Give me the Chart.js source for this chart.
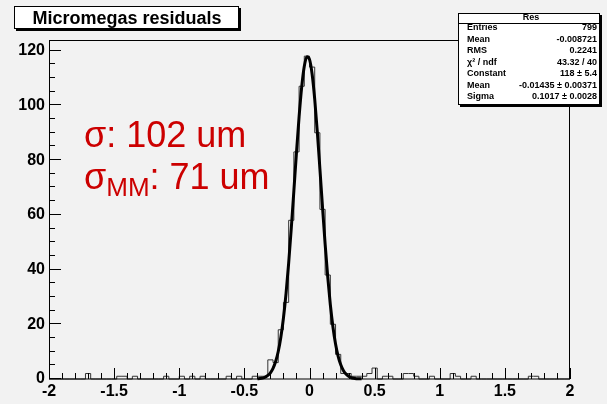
<!DOCTYPE html>
<html><head><meta charset="utf-8">
<script src="https://cdn.jsdelivr.net/npm/chart.js@4/dist/chart.umd.min.js"></script>
<style>html,body{margin:0;padding:0;background:#f2f2f2;}canvas{display:block;}</style>
</head><body>
<canvas id="c" width="607" height="404"></canvas>
<script>
// ---- data ----
const histTitle = 'Micromegas residuals';
const xMin = -2, xMax = 2, nBins = 100;
const binCounts = [
  0,0,0,0,0,0,0,2,0,0,
  0,0,0,1,1,0,1,0,0,0,
  0,0,1,0,0,1,0,1,0,1,
  0,0,0,0,1,0,1,0,0,1,
  1,1,7,6,18,28,58,83,107,118,
  114,90,62,38,20,9,2,2,1,1,
  1,2,4,0,1,1,0,0,2,2,
  1,0,0,1,0,0,0,2,1,0,
  0,1,0,0,0,0,0,0,0,0,
  0,0,1,1,0,0,0,0,0,0
];
const fitX = [-0.40,-0.38,-0.36,-0.34,-0.32,-0.30,-0.28,-0.26,-0.24,-0.22,-0.20,-0.18,-0.16,-0.14,-0.12,-0.10,-0.08,-0.06,-0.04,-0.02,
  0.00,0.02,0.04,0.06,0.08,0.10,0.12,0.14,0.16,0.18,0.20,0.22,0.24,0.26,0.28,0.30,0.32,0.34,0.36,0.38,0.40];
const fitY = [0.09,0.18,0.37,0.70,1.29,2.28,3.89,6.39,10.07,15.27,22.30,31.32,42.32,55.01,68.79,82.77,95.81,106.70,114.31,117.82,
  116.83,111.46,102.29,90.33,76.74,62.72,49.31,37.30,27.14,19.01,12.81,8.30,5.17,3.10,1.79,0.99,0.53,0.27,0.13,0.06,0.05];
const xTickLabels = [-2,-1.5,-1,-0.5,0,0.5,1,1.5,2];
const yTickLabels = [0,20,40,60,80,100,120];
const yMax = 123.9;
const statsTitle = 'Res';
const statsNames = ['Entries','Mean','RMS','\u03C7\u00B2 / ndf','Constant','Mean','Sigma'];
const statsValues = ['799','-0.008721','0.2241','43.32 / 40','118 \u00B1 5.4','-0.01435 \u00B1 0.00371','0.1017 \u00B1 0.0028'];
const annotLine1 = '\u03C3: 102 um';
const annotSigma = '\u03C3';
const annotSub = 'MM';
const annotRest = ': 71 um';

// ---- build ----
const bw = (xMax - xMin) / nBins;
const histPts = binCounts.map((v, i) => ({x: xMin + i * bw, y: v}));
histPts.push({x: xMax, y: binCounts[nBins - 1]});
const fitPts = fitX.map((x, i) => ({x: x, y: fitY[i]}));

const FONT = '"Liberation Sans", Arial, Helvetica, sans-serif';

const deco = {
  id: 'deco',
  beforeDraw(chart) {
    const ctx = chart.ctx;
    ctx.save();
    ctx.fillStyle = '#f2f2f2';
    ctx.fillRect(0, 0, chart.width, chart.height);
    ctx.restore();
  },
  afterDatasetsDraw(chart) {
    const ctx = chart.ctx, a = chart.chartArea;
    const xs = chart.scales.x, ys = chart.scales.y;
    ctx.save();
    ctx.strokeStyle = '#000';
    ctx.lineWidth = 1;
    ctx.strokeRect(Math.round(a.left) + 0.5, Math.round(a.top) + 0.5,
      Math.round(a.right - a.left) - 1, Math.round(a.bottom - a.top) - 0.5);
    ctx.beginPath();
    for (let k = 0; k * 5 <= yMax; k++) {
      const v = k * 5;
      const p = Math.round(ys.getPixelForValue(v)) - 0.5;
      const len = (k % 4 === 0) ? 12 : 6;
      ctx.moveTo(a.left, p); ctx.lineTo(a.left + len, p);
    }
    for (let k = 0; k <= 40; k++) {
      const v = xMin + k * 0.1;
      const p = Math.round(xs.getPixelForValue(v)) + 0.5;
      const len = (k % 5 === 0) ? 11 : 6;
      ctx.moveTo(p, a.bottom); ctx.lineTo(p, a.bottom - len);
    }
    ctx.stroke();
    ctx.restore();
  },
  afterDraw(chart) {
    const ctx = chart.ctx;
    ctx.save();
    // title box
    ctx.fillStyle = '#000';
    ctx.fillRect(16, 8, 225, 23);
    ctx.fillStyle = '#fff';
    ctx.fillRect(14, 6, 225, 23);
    ctx.strokeStyle = '#000'; ctx.lineWidth = 1;
    ctx.strokeRect(14.5, 6.5, 224, 22);
    ctx.fillStyle = '#000';
    ctx.font = 'bold 18px ' + FONT;
    ctx.textAlign = 'center'; ctx.textBaseline = 'alphabetic';
    ctx.fillText(histTitle, 127, 24);
    // stats box
    const bx = 458, by = 13, bwid = 142, bh = 92;
    ctx.fillStyle = '#000';
    ctx.fillRect(bx + 2, by + 2, bwid, bh);
    ctx.fillStyle = '#fff';
    ctx.fillRect(bx, by, bwid, bh);
    ctx.strokeRect(bx + 0.5, by + 0.5, bwid - 1, bh - 1);
    ctx.beginPath(); ctx.moveTo(bx, by + 10.5); ctx.lineTo(bx + bwid, by + 10.5); ctx.stroke();
    ctx.fillStyle = '#000';
    ctx.font = 'bold 9px ' + FONT;
    ctx.textBaseline = 'middle';
    ctx.textAlign = 'center';
    ctx.fillText(statsTitle, 531, 18);
    for (let i = 0; i < statsNames.length; i++) {
      const yy = 28 + i * 11.5;
      ctx.textAlign = 'left';
      ctx.fillText(statsNames[i], 467, yy);
      ctx.textAlign = 'right';
      ctx.fillText(statsValues[i], 597, yy);
    }
    // red annotations
    ctx.fillStyle = '#cc0000';
    ctx.textAlign = 'left'; ctx.textBaseline = 'alphabetic';
    ctx.font = '36px ' + FONT;
    ctx.fillText(annotLine1, 84, 147);
    ctx.fillText(annotSigma, 84, 189);
    const w1 = ctx.measureText(annotSigma).width;
    ctx.font = '26px ' + FONT;
    ctx.fillText(annotSub, 84 + w1, 196);
    const w2 = ctx.measureText(annotSub).width;
    ctx.font = '36px ' + FONT;
    ctx.fillText(annotRest, 84 + w1 + w2, 189);
    ctx.restore();
  }
};

new Chart(document.getElementById('c'), {
  type: 'line',
  data: {
    datasets: [
      {label: 'fit', data: fitPts, borderColor: '#000', borderWidth: 3, pointRadius: 0,
       cubicInterpolationMode: 'monotone', order: 0, clip: 4},
      {label: 'hist', data: histPts, borderColor: '#333', borderWidth: 1, pointRadius: 0,
       stepped: 'before', order: 1, clip: false}
    ]
  },
  options: {
    responsive: false, animation: false, devicePixelRatio: 1,
    layout: {padding: {top: 40, right: 37, left: 0, bottom: 0}},
    plugins: {legend: {display: false}, tooltip: {enabled: false}, title: {display: false}},
    scales: {
      x: {
        type: 'linear', min: xMin, max: xMax,
        grid: {display: false, drawTicks: false}, border: {display: false},
        ticks: {font: {family: FONT, size: 16, weight: 'bold'}, color: '#000', padding: 3,
                maxRotation: 0, autoSkip: false, callback: v => String(v)},
        afterBuildTicks: s => { s.ticks = xTickLabels.map(v => ({value: v})); },
        afterFit: s => { s.height = 25; }
      },
      y: {
        type: 'linear', min: 0, max: yMax,
        grid: {display: false, drawTicks: false}, border: {display: false},
        ticks: {font: {family: FONT, size: 16, weight: 'bold'}, color: '#000', padding: 4,
                autoSkip: false, callback: v => String(v)},
        afterBuildTicks: s => { s.ticks = yTickLabels.map(v => ({value: v})); },
        afterFit: s => { s.width = 49; }
      }
    }
  },
  plugins: [deco]
});
</script>
</body></html>
